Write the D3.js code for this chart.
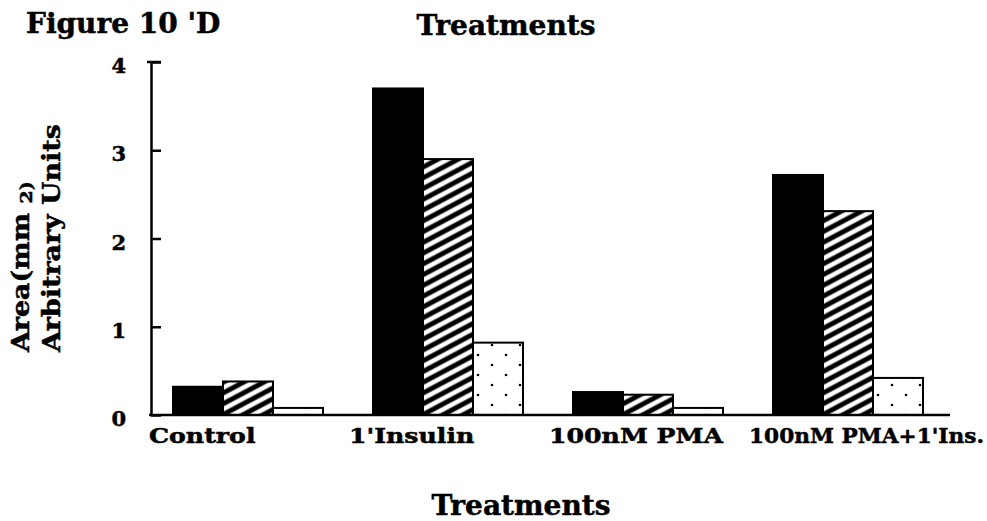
<!DOCTYPE html>
<html>
<head>
<meta charset="utf-8">
<script src="https://cdn.jsdelivr.net/npm/d3@7"></script>
<style>
  html, body { margin: 0; padding: 0; background: #fff; }
  svg { display: block; }
  text { font-family: "DejaVu Serif", serif; font-weight: bold; fill: #000; stroke: #000; stroke-width: 0.5px; }
</style>
</head>
<body>
<svg id="chart" width="987" height="521"></svg>
<script>
// Treatment groups along the x axis
const categories = ["Control", "1'Insulin", "100nM PMA", "100nM PMA+1'Ins."];
// Three measurements per treatment (solid, hatched, dotted bars)
const seriesNames = ["solid", "hatched", "dotted"];
const solidValues   = [0.32, 3.70, 0.26, 2.72];
const hatchedValues = [0.38, 2.90, 0.23, 2.31];
const dottedValues  = [0.08, 0.82, 0.08, 0.42];
const yTicks = [0, 1, 2, 3, 4];

const seriesValues = { solid: solidValues, hatched: hatchedValues, dotted: dottedValues };
const rows = categories.map((c, i) => ({
  category: c,
  values: seriesNames.map(s => ({ series: s, value: seriesValues[s][i] }))
}));

const svg = d3.select("#chart");
const W = 987, H = 521;

// Fill patterns
const defs = svg.append("defs");
const hatch = defs.append("pattern")
  .attr("id", "hatch").attr("patternUnits", "userSpaceOnUse")
  .attr("width", 12).attr("height", 9.5)
  .attr("patternTransform", "rotate(-28)");
hatch.append("rect").attr("width", 12).attr("height", 9.5).attr("fill", "#000");
hatch.append("rect").attr("y", 2.5).attr("width", 12).attr("height", 4.6).attr("fill", "#fff");

const dots = defs.append("pattern")
  .attr("id", "dots").attr("patternUnits", "userSpaceOnUse")
  .attr("width", 28).attr("height", 20);
dots.append("rect").attr("width", 28).attr("height", 20).attr("fill", "#fff");
dots.append("circle").attr("cx", 7).attr("cy", 5).attr("r", 1.3).attr("fill", "#000");
dots.append("circle").attr("cx", 21).attr("cy", 15).attr("r", 1.3).attr("fill", "#000");

const fills = { solid: "#000", hatched: "url(#hatch)", dotted: "url(#dots)" };

// Scales
const y = d3.scaleLinear().domain([0, 4]).range([415, 62]);
const x0 = d3.scaleBand().domain(categories).range([173, 923]).paddingInner(0.25).paddingOuter(0);
const x1 = d3.scaleBand().domain(seriesNames).range([0, x0.bandwidth()]).padding(0);

// Bars
const groups = svg.append("g").selectAll("g").data(rows).join("g")
  .attr("transform", d => `translate(${x0(d.category)},0)`);
groups.selectAll("rect").data(d => d.values).join("rect")
  .attr("x", d => x1(d.series))
  .attr("y", d => y(d.value))
  .attr("width", x1.bandwidth())
  .attr("height", d => y(0) - y(d.value))
  .attr("fill", d => fills[d.series])
  .attr("stroke", "#000")
  .attr("stroke-width", 2);

// Baseline
svg.append("line")
  .attr("x1", 149).attr("x2", 950)
  .attr("y1", y(0)).attr("y2", y(0))
  .attr("stroke", "#000").attr("stroke-width", 2.5);

// Y axis with inward ticks
const yAxis = svg.append("g")
  .attr("transform", "translate(151,0)")
  .call(d3.axisLeft(y).tickValues(yTicks).tickFormat(d3.format("d"))
    .tickSize(-10).tickSizeOuter(0).tickPadding(25));
yAxis.select(".domain").attr("stroke-width", 2.5);
yAxis.selectAll(".tick line").attr("stroke-width", 2.5);
yAxis.selectAll(".tick text")
  .attr("font-size", 21)
  .attr("font-family", "DejaVu Serif, serif")
  .attr("font-weight", "bold")
  .attr("fill", "#000")
  .attr("dy", "0.5em");
// small cap at the top of the axis
svg.append("line")
  .attr("x1", 147).attr("x2", 161).attr("y1", y(4)).attr("y2", y(4))
  .attr("stroke", "#000").attr("stroke-width", 2.5);

// Category labels, slightly widened to suit the heavy face
const catLabels = svg.append("g").selectAll("text").data(categories).join("text")
  .attr("font-size", 21)
  .text(d => d);
catLabels.each(function (d) {
  const x = x0(d) - 24;
  const len = this.getComputedTextLength();
  const sx = Math.min(1.2, (W - 3 - x) / len);
  d3.select(this).attr("transform", `translate(${x},443) scale(${sx},1)`);
});

// Titles
svg.append("text").attr("x", 26).attr("y", 33).attr("font-size", 28).text("Figure 10 'D");
svg.append("text").attr("x", 506).attr("y", 35).attr("font-size", 28)
  .attr("text-anchor", "middle").text("Treatments");
svg.append("text").attr("x", 521).attr("y", 515).attr("font-size", 28)
  .attr("text-anchor", "middle").text("Treatments");

// Y axis title (two lines, rotated)
const yt1 = svg.append("text").attr("font-size", 24)
  .attr("transform", "translate(29,352) rotate(-90) scale(1.12,1)");
yt1.append("tspan").text("Area(mm ");
yt1.append("tspan").attr("font-size", 17).attr("dy", 3).text("2)");
svg.append("text").attr("font-size", 24)
  .attr("transform", "translate(60,352) rotate(-90) scale(1.12,1)")
  .text("Arbitrary Units");
</script>
</body>
</html>
